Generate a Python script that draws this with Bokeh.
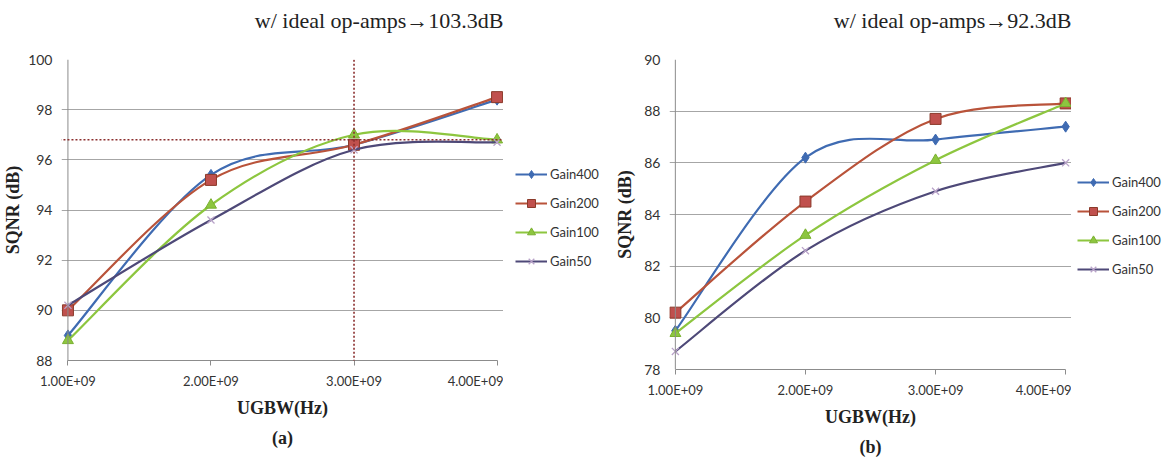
from bokeh.plotting import figure
from bokeh.models import (Range1d, FixedTicker, Legend, LegendItem, Span, Arrow,
                          Title, ColumnDataSource)
from bokeh.layouts import row
from bokeh.embed import file_html
from bokeh.resources import INLINE

# ---------------- data ----------------
ugbw = [1e9, 2e9, 3e9, 4e9]
x_tick_labels = ["1.00E+09", "2.00E+09", "3.00E+09", "4.00E+09"]
series_names = ["Gain400", "Gain200", "Gain100", "Gain50"]

a_gain400 = [89.0, 95.4, 96.6, 98.4]
a_gain200 = [90.0, 95.2, 96.6, 98.5]
a_gain100 = [88.8, 94.2, 97.0, 96.8]
a_gain50 = [90.2, 93.6, 96.4, 96.7]
a_yticks = [88, 90, 92, 94, 96, 98, 100]
a_title = "w/ ideal op-amps\u2192103.3dB"
a_caption = "(a)"
a_ref_level = 96.8
a_ref_ugbw = 3e9

b_gain400 = [79.5, 86.2, 86.9, 87.4]
b_gain200 = [80.2, 84.5, 87.7, 88.3]
b_gain100 = [79.4, 83.2, 86.1, 88.3]
b_gain50 = [78.7, 82.6, 84.9, 86.0]
b_yticks = [78, 80, 82, 84, 86, 88, 90]
b_title = "w/ ideal op-amps\u219292.3dB"
b_caption = "(b)"

# ---------------- styles ----------------
COLORS = ["#3F6BB2", "#B9533A", "#8DC63F", "#4E4978"]
MARKERS = ["diamond", "square", "triangle", "x"]
MFILL = ["#3F6BB2", "#C0504D", "#8DC63F", None]
MLINE = ["#3F6BB2", "#8B3A2A", "#7AB030", "#B9A3C9"]
MSIZE = [11, 11, 11, 10]
SERIF = "Liberation Serif"
SANS = "Lato"


def smooth_segments(xs, ys):
    n = len(xs)
    seg = dict(x0=[], y0=[], x1=[], y1=[], cx0=[], cy0=[], cx1=[], cy1=[])
    for i in range(n - 1):
        xm, ym = xs[max(i - 1, 0)], ys[max(i - 1, 0)]
        xp, yp = xs[min(i + 2, n - 1)], ys[min(i + 2, n - 1)]
        seg["x0"].append(xs[i]); seg["y0"].append(ys[i])
        seg["x1"].append(xs[i + 1]); seg["y1"].append(ys[i + 1])
        seg["cx0"].append(xs[i] + (xs[i + 1] - xm) / 6)
        seg["cy0"].append(ys[i] + (ys[i + 1] - ym) / 6)
        seg["cx1"].append(xs[i + 1] - (xp - xs[i]) / 6)
        seg["cy1"].append(ys[i + 1] - (yp - ys[i]) / 6)
    return seg


def draw_series(p, k, xs, ys):
    src = ColumnDataSource(smooth_segments(xs, ys))
    br = p.bezier(x0="x0", y0="y0", x1="x1", y1="y1", cx0="cx0", cy0="cy0",
                  cx1="cx1", cy1="cy1", source=src, line_color=COLORS[k], line_width=2.2)
    if MARKERS[k] == "x":
        sr = p.scatter(xs, ys, marker="x", size=MSIZE[k], line_color=MLINE[k], line_width=1.3)
    else:
        sr = p.scatter(xs, ys, marker=MARKERS[k], size=MSIZE[k], fill_color=MFILL[k],
                       line_color=MLINE[k], line_width=1)
    return br, sr


def make_chart(series, yticks, title, caption, frame_w, left, top, frame_h, ylab_standoff):
    pad = 0.045e9
    p = figure(frame_width=frame_w, frame_height=frame_h, output_backend="svg",
               toolbar_location=None,
               x_range=Range1d(ugbw[0] - pad, ugbw[-1] + pad),
               y_range=Range1d(yticks[0], yticks[-1]),
               min_border_left=left, min_border_right=0,
               min_border_top=top, min_border_bottom=460 - top - frame_h)
    p.outline_line_color = None
    p.background_fill_color = "white"
    p.xgrid.grid_line_color = None
    p.ygrid.grid_line_color = "#A6A6A6"
    p.ygrid.grid_line_width = 1

    p.xaxis.ticker = FixedTicker(ticks=ugbw)
    p.xaxis.major_label_overrides = {t: l for t, l in zip(ugbw, x_tick_labels)}
    p.xaxis.bounds = (ugbw[0], ugbw[-1])
    p.xaxis.axis_line_color = "#8C8C8C"
    p.xaxis.major_tick_line_color = "#8C8C8C"
    p.xaxis.major_tick_out = 5
    p.xaxis.major_tick_in = 0
    p.xaxis.minor_tick_line_color = None
    p.xaxis.major_label_text_font = SANS
    p.xaxis.major_label_text_font_size = "13px"
    p.xaxis.major_label_text_color = "#333333"
    p.xaxis.major_label_standoff = 7
    p.xaxis.axis_label = "UGBW(Hz)"
    p.xaxis.axis_label_text_font = SERIF
    p.xaxis.axis_label_text_font_style = "bold"
    p.xaxis.axis_label_text_font_size = "18px"
    p.xaxis.axis_label_text_color = "#222222"
    p.xaxis.axis_label_standoff = 6

    p.yaxis.ticker = FixedTicker(ticks=yticks)
    p.yaxis.axis_line_color = None
    p.yaxis.major_tick_line_color = None
    p.yaxis.minor_tick_line_color = None
    p.yaxis.major_label_text_font = SANS
    p.yaxis.major_label_text_font_size = "14px"
    p.yaxis.major_label_text_color = "#333333"
    p.yaxis.major_label_standoff = 3
    p.yaxis.axis_label = "SQNR (dB)"
    p.yaxis.axis_label_text_font = SERIF
    p.yaxis.axis_label_text_font_style = "bold"
    p.yaxis.axis_label_text_font_size = "18px"
    p.yaxis.axis_label_text_color = "#222222"
    p.yaxis.axis_label_standoff = ylab_standoff

    p.add_layout(Span(location=ugbw[0], dimension="height", line_color="#8C8C8C", line_width=1))

    for k, ys in enumerate(series):
        draw_series(p, k, ugbw, ys)

    # spacer title (closest to frame), then the real title above it
    p.add_layout(Title(text=" ", text_font_size="9px"), "above")
    p.add_layout(Title(text=title, align="right", text_font=SERIF, text_font_size="22px",
                       text_font_style="normal", text_color="#222222"), "above")
    p.add_layout(Title(text=caption, align="center", text_font=SERIF, text_font_size="18px",
                       text_font_style="bold", text_color="#222222"), "below")
    return p


def make_legend(series, width, top, frame_h, loc):
    # legend-only panel: the series are drawn outside its visible range
    q = figure(frame_width=width, frame_height=frame_h, output_backend="svg",
               toolbar_location=None,
               x_range=Range1d(0, 1), y_range=Range1d(0, 1),
               min_border_left=0, min_border_right=0,
               min_border_top=top, min_border_bottom=460 - top - frame_h,
               x_axis_type=None, y_axis_type=None)
    q.outline_line_color = None
    q.grid.visible = False
    items = []
    for k, (name, ys) in enumerate(zip(series_names, series)):
        br, sr = draw_series(q, k, ugbw, ys)
        items.append(LegendItem(label=name, renderers=[br, sr]))
    leg = Legend(items=items, location=loc, border_line_color=None,
                 background_fill_alpha=0, glyph_width=32, glyph_height=20, label_height=20,
                 label_text_font=SANS, label_text_font_size="13px", label_text_color="#333333",
                 label_standoff=3, spacing=9, padding=0, margin=0)
    q.add_layout(leg)
    return q


a_series = [a_gain400, a_gain200, a_gain100, a_gain50]
b_series = [b_gain400, b_gain200, b_gain100, b_gain50]

pa = make_chart(a_series, a_yticks, a_title, a_caption,
                frame_w=442, left=59, top=46, frame_h=301, ylab_standoff=2)

# reference dotted lines on chart (a)
pa.add_layout(Arrow(end=None, x_start=a_ref_ugbw, y_start=86.2, x_end=a_ref_ugbw, y_end=100.32,
                    line_color="#8B2E2E", line_width=1.6, line_dash="2 2"))
pa.add_layout(Arrow(end=None, x_start=0.745e9, y_start=a_ref_level, x_end=4.32e9, y_end=a_ref_level,
                    line_color="#8B2E2E", line_width=1.6, line_dash="2 2"))

la = make_legend(a_series, 99, 46, 301, (12, 89))

pb = make_chart(b_series, b_yticks, b_title, b_caption,
                frame_w=402, left=67, top=47, frame_h=310, ylab_standoff=6)

lb = make_legend(b_series, 98, 47, 310, (6, 90))

layout = row(pa, la, pb, lb)
open("out.html", "w").write(file_html(layout, INLINE))
